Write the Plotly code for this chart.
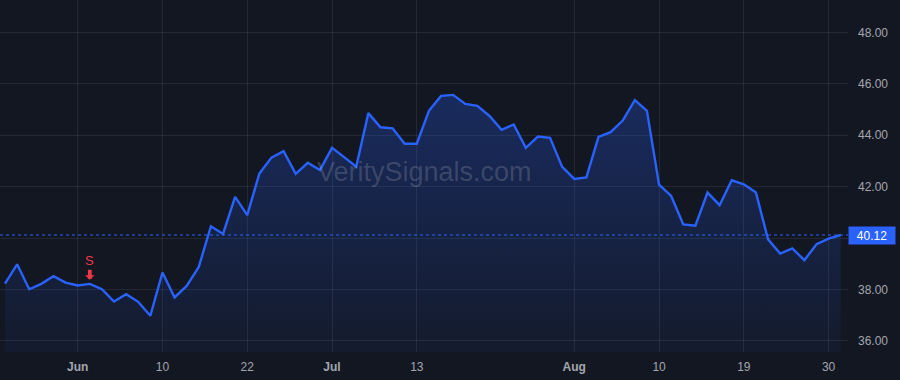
import plotly.graph_objects as go

# ---- data -------------------------------------------------------------
PRICE = [38.23, 38.98, 38.01, 38.22, 38.52, 38.27, 38.16, 38.22, 38.01, 37.53,
         37.82, 37.52, 36.98, 38.66, 37.69, 38.14, 38.88, 40.46, 40.16, 41.60,
         40.89, 42.51, 43.13, 43.38, 42.50, 42.93, 42.65, 43.51, 43.15, 42.78,
         44.86, 44.31, 44.27, 43.67, 43.67, 44.95, 45.53, 45.57, 45.22, 45.14,
         44.75, 44.21, 44.42, 43.51, 43.95, 43.90, 42.77, 42.30, 42.36, 43.94,
         44.12, 44.57, 45.37, 44.95, 42.08, 41.64, 40.53, 40.48, 41.77, 41.28,
         42.25, 42.09, 41.77, 39.95, 39.40, 39.60, 39.14, 39.76, 39.98, 40.12]
X_IDX = list(range(len(PRICE)))

TICK_IDX = [6, 13, 20, 27, 34, 47, 54, 61, 68]
TICK_TEXT = ["<b>Jun</b>", "10", "22", "<b>Jul</b>", "13", "<b>Aug</b>", "10", "19", "30"]

Y_TICKS = [36, 38, 40, 42, 44, 46, 48]
# the 40.00 label sits under the last-price badge in the reference
Y_TICK_TEXT = ["36.00", "38.00", "", "42.00", "44.00", "46.00", "48.00"]
Y_RANGE = [35.57, 49.26]
X_RANGE = [-0.413, 69.6]

SIGNAL_IDX = 7
SIGNAL_TEXT = "S"
WATERMARK = "VeritySignals.com"

# ---- styles -----------------------------------------------------------
BG = "#131722"
GRID = "rgba(255,255,255,0.075)"
BLUE = "#2962ff"
RED = "#f23645"
TXT = "#a3a6ae"
FONT = "Liberation Sans, Arial, sans-serif"

fig = go.Figure()
fig.add_trace(go.Scatter(
    x=X_IDX, y=PRICE, mode="lines",
    line=dict(color=BLUE, width=2.4),
    fill="tozeroy",
    fillgradient=dict(type="vertical", start=Y_RANGE[0], stop=max(PRICE),
                      colorscale=[[0, "rgba(41,98,255,0.05)"],
                                  [1, "rgba(41,98,255,0.27)"]]),
    hoverinfo="skip", showlegend=False,
))

last = PRICE[-1]
fig.add_hline(y=last, line=dict(color=BLUE, width=1, dash="dot"))

# last price label
fig.add_annotation(
    xref="paper", x=1, xanchor="left", yref="y", y=last, yanchor="middle",
    text=f"{last:.2f}", showarrow=False, bgcolor=BLUE, borderpad=0,
    width=46, height=17, align="center",
    font=dict(color="white", size=12, family=FONT),
)

# watermark
fig.add_annotation(
    xref="paper", yref="paper", x=0.5, y=0.51, text=WATERMARK, showarrow=False,
    font=dict(color="rgba(255,255,255,0.16)", size=27, family=FONT),
)

# sell signal
fig.add_annotation(
    x=X_IDX[SIGNAL_IDX], y=PRICE[SIGNAL_IDX], text=SIGNAL_TEXT,
    showarrow=True, ax=0, ay=-23, arrowhead=1, arrowwidth=3.7, arrowsize=0.42,
    arrowcolor=RED, standoff=4, font=dict(color=RED, size=13, family=FONT),
)

fig.update_layout(
    width=900, height=380,
    margin=dict(l=0, r=52, t=0, b=28),
    paper_bgcolor=BG, plot_bgcolor=BG,
    font=dict(family=FONT, color=TXT, size=12),
    xaxis=dict(range=X_RANGE, tickvals=TICK_IDX, ticktext=TICK_TEXT,
               showgrid=True, gridcolor=GRID, gridwidth=1, zeroline=False,
               showline=False, ticks="", ticklabelstandoff=6,
               tickfont=dict(color=TXT, size=12, family=FONT)),
    yaxis=dict(range=Y_RANGE, side="right", tickvals=Y_TICKS, ticktext=Y_TICK_TEXT,
               showgrid=True, gridcolor=GRID, gridwidth=1, zeroline=False,
               showline=False, ticks="", ticklabelstandoff=9,
               tickfont=dict(color=TXT, size=12, family=FONT)),
)

fig.write_html("out.html")
